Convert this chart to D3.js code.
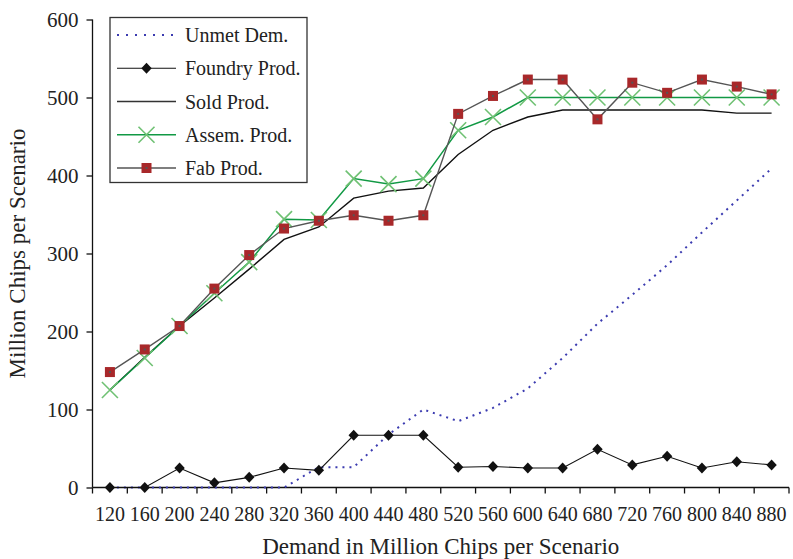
<!DOCTYPE html>
<html>
<head>
<meta charset="utf-8">
<script src="https://cdn.jsdelivr.net/npm/d3@7/dist/d3.min.js"></script>
<style>
  html, body { margin: 0; padding: 0; background: #fff; }
  svg { display: block; font-family: "Liberation Serif", "Times New Roman", serif; }
</style>
</head>
<body>
<svg id="chart" width="793" height="559"></svg>
<script>
const categories = [120,160,200,240,280,320,360,400,440,480,520,560,600,640,680,720,760,800,840,880];
const unmetDem    = [0,0,0,0,0,0,26,26,68,100,85,102,127,166,210,247,285,327,368,409];
const foundryProd = [0,0,25,6,13,25,22,67,67,67,26,27,25,25,49,29,40,25,33,29];
const soldProd    = [125,167,207,243,280,318,334,371,380,384,427,458,475,484,484,484,484,484,480,480];
const assemProd   = [125,166,207,249,289,344,343,396,389,396,458,475,500,500,500,500,500,500,500,500];
const fabProd     = [148,177,207,255,298,332,342,349,342,349,479,502,523,523,472,519,506,523,514,504];
const yTicks = [0,100,200,300,400,500,600];
const legendLabels = ["Unmet Dem.","Foundry Prod.","Sold Prod.","Assem. Prod.","Fab Prod."];
const xTitle = "Demand in Million Chips per Scenario";
const yTitle = "Million Chips per Scenario";

(function () {
const svg = d3.select("#chart");
const L = 92.5, R = 789, T = 19.5, B = 487.5;

const x = d3.scaleBand().domain(categories).range([L, R]).padding(0);
const y = d3.scaleLinear().domain([0, 600]).range([B, T]);
const cx = c => x(c) + x.bandwidth() / 2;

// Axes
const yAxis = d3.axisLeft(y).tickValues(yTicks).tickSize(6).tickPadding(8);
const gy = svg.append("g").attr("transform", `translate(${L},0)`).call(yAxis)
  .attr("font-family", "Liberation Serif, serif");
gy.select(".domain").attr("stroke", "#111").attr("stroke-width", 1.3).attr("d", `M0,${T}V${B}`);
gy.selectAll(".tick line").attr("stroke", "#111").attr("stroke-width", 1.3);
gy.selectAll(".tick text").attr("font-size", 21).attr("fill", "#222");

const xAxis = d3.axisBottom(x).tickSize(0).tickPadding(19);
const gx = svg.append("g").attr("transform", `translate(0,${B})`).call(xAxis)
  .attr("font-family", "Liberation Serif, serif");
gx.select(".domain").attr("stroke", "#111").attr("stroke-width", 1.3).attr("d", `M${L},0H${R}`);
gx.selectAll(".tick text").attr("font-size", 20).attr("fill", "#222");
const bounds = categories.map(c => x(c)).concat([x(categories[categories.length-1]) + x.bandwidth()]);
gx.selectAll("line.btick").data(bounds).join("line").attr("class", "btick")
  .attr("x1", d => d).attr("x2", d => d).attr("y1", 0).attr("y2", 6)
  .attr("stroke", "#111").attr("stroke-width", 1.3);

// Titles
svg.append("text").attr("x", (L + R) / 2).attr("y", 554)
  .attr("text-anchor", "middle").attr("font-size", 23).attr("fill", "#222").text(xTitle);
svg.append("text").attr("transform", `translate(25,${(T + B) / 2}) rotate(-90)`)
  .attr("text-anchor", "middle").attr("font-size", 23).attr("fill", "#222").text(yTitle);

// Series
const line = vals => d3.line().x((d, i) => cx(categories[i])).y(d => y(d))(vals);

const plot = svg.append("g");
plot.append("path").attr("d", line(unmetDem)).attr("fill", "none")
  .attr("stroke", "#3b3bb0").attr("stroke-width", 2).attr("stroke-dasharray", "2,5");

plot.append("path").attr("d", line(foundryProd)).attr("fill", "none")
  .attr("stroke", "#111").attr("stroke-width", 1.1);
const diamondPath = "M0,-5.5L5.2,0L0,5.5L-5.2,0Z";
plot.selectAll("path.fd").data(foundryProd).join("path").attr("class", "fd")
  .attr("d", diamondPath).attr("transform", (d, i) => `translate(${cx(categories[i])},${y(d)})`)
  .attr("fill", "#111");

plot.append("path").attr("d", line(soldProd)).attr("fill", "none")
  .attr("stroke", "#111").attr("stroke-width", 1.4);

plot.append("path").attr("d", line(assemProd)).attr("fill", "none")
  .attr("stroke", "#119944").attr("stroke-width", 1.5);
const xMark = (g, px, py) => {
  const s = 8;
  g.append("path").attr("d", `M${px-s},${py-s}L${px+s},${py+s}M${px-s},${py+s}L${px+s},${py-s}`)
    .attr("stroke", "#6fc173").attr("stroke-width", 1.6).attr("fill", "none");
};
assemProd.forEach((d, i) => xMark(plot, cx(categories[i]), y(d)));

plot.append("path").attr("d", line(fabProd)).attr("fill", "none")
  .attr("stroke", "#555").attr("stroke-width", 1.4);
const sq = (g, px, py) => {
  g.append("rect").attr("x", px - 5).attr("y", py - 5).attr("width", 10).attr("height", 10).attr("fill", "#a8282a");
  g.append("rect").attr("x", px - 1).attr("y", py - 1).attr("width", 2).attr("height", 2).attr("fill", "#555");
};
fabProd.forEach((d, i) => sq(plot, cx(categories[i]), y(d)));

// Legend
const lg = svg.append("g");
lg.append("rect").attr("x", 110).attr("y", 17.5).attr("width", 197).attr("height", 165)
  .attr("fill", "#fff").attr("stroke", "#333").attr("stroke-width", 1.3);
const rowY = i => 35 + i * 33.25;
const lx1 = 117, lx2 = 176, lmid = (lx1 + lx2) / 2;
legendLabels.forEach((t, i) => {
  lg.append("text").attr("x", 185).attr("y", rowY(i) + 7).attr("font-size", 20).attr("fill", "#222").text(t);
});
lg.append("line").attr("x1", lx1).attr("x2", lx2).attr("y1", rowY(0)).attr("y2", rowY(0))
  .attr("stroke", "#3b3bb0").attr("stroke-width", 2).attr("stroke-dasharray", "2,7");
lg.append("line").attr("x1", lx1).attr("x2", lx2).attr("y1", rowY(1)).attr("y2", rowY(1))
  .attr("stroke", "#111").attr("stroke-width", 1.1);
lg.append("path").attr("d", diamondPath).attr("transform", `translate(${lmid},${rowY(1)})`).attr("fill", "#111");
lg.append("line").attr("x1", lx1).attr("x2", lx2).attr("y1", rowY(2)).attr("y2", rowY(2))
  .attr("stroke", "#333").attr("stroke-width", 1.4);
lg.append("line").attr("x1", lx1).attr("x2", lx2).attr("y1", rowY(3)).attr("y2", rowY(3))
  .attr("stroke", "#119944").attr("stroke-width", 1.5);
xMark(lg, lmid, rowY(3));
lg.append("line").attr("x1", lx1).attr("x2", lx2).attr("y1", rowY(4)).attr("y2", rowY(4))
  .attr("stroke", "#555").attr("stroke-width", 1.4);
sq(lg, lmid, rowY(4));
})();
</script>
</body>
</html>
